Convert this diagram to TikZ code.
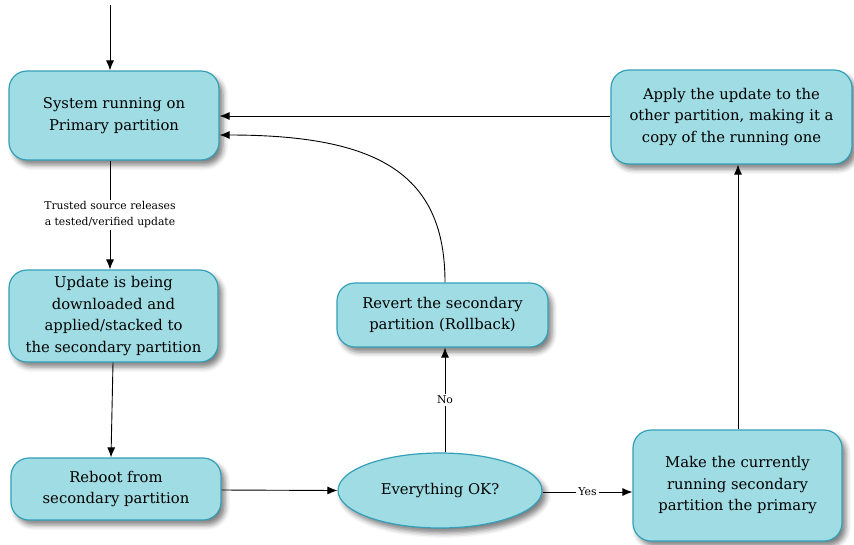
\documentclass[tikz,border=0pt]{standalone}
\usepackage{fontspec}
\setmainfont{DejaVu Serif}
\usetikzlibrary{arrows.meta,shapes.geometric,shadows.blur}
\definecolor{boxfill}{RGB}{160,220,227}
\definecolor{boxline}{RGB}{52,160,184}
\tikzset{
  stepbox/.style={draw=boxline, fill=boxfill, line width=1.2pt, rounded corners=18pt,
    align=center, font=\fontsize{14.8}{21.5}\selectfont, inner sep=0pt,
    blur shadow={shadow xshift=4pt, shadow yshift=-5pt, shadow blur radius=5pt, shadow opacity=50}},
  decision/.style={stepbox, ellipse, rounded corners=0pt},
  flow/.style={line width=0.9pt, -{Latex[length=10pt,width=8pt]}},
  elabel/.style={fill=white, font=\fontsize{10.8}{16}\selectfont, align=center, inner sep=2pt},
}
\begin{document}
\begin{tikzpicture}[x=1pt,y=-1pt]
\useasboundingbox (0,0) rectangle (854,544);
\node[stepbox, minimum width=210pt, minimum height=89pt] (primary) at (114,115.5)
  {System running on\\Primary partition};
\node[stepbox, minimum width=241pt, minimum height=94pt] (apply) at (731.5,117)
  {Apply the update to the\\other partition, making it a\\copy of the running one};
\node[stepbox, minimum width=209pt, minimum height=92pt] (download) at (113.5,316)
  {Update is being\\downloaded and\\applied/stacked to\\the secondary partition};
\node[stepbox, minimum width=211pt, minimum height=64pt] (revert) at (442.5,315)
  {Revert the secondary\\partition (Rollback)};
\node[stepbox, minimum width=210pt, minimum height=62pt] (reboot) at (116,489)
  {Reboot from\\secondary partition};
\node[decision, minimum width=204pt, minimum height=75pt] (ok) at (440,490.5)
  {Everything OK?};
\node[stepbox, minimum width=209pt, minimum height=111pt] (promote) at (737.5,485.5)
  {Make the currently\\running secondary\\partition the primary};
\coordinate (entry) at (110,5);

\draw[flow] (entry) -- (entry |- primary.north);
\draw[flow] (primary.south -| 110,0) -- node[elabel] {Trusted source releases\\a tested/verified update} (download.north -| 110,0);
\draw[flow] (download.south -| 113,0) -- (reboot.north -| 111,0);
\draw[flow] (reboot.east |- 0,490) -- (ok.west);
\draw[flow] (ok.east |- 0,492) -- node[elabel, pos=0.5] {Yes} (promote.west |- 0,492);
\draw[flow] (promote.north -| 738,0) -- (apply.south -| 738,0);
\draw[flow] (apply.west |- 0,116) -- (primary.east |- 0,116);
\draw[flow] (ok.north -| 445,0) -- node[elabel] {No} (revert.south -| 445,0);
\draw[flow] (revert.north -| 445,0) .. controls (445,175) and (380,135) .. (primary.east |- 0,135);
\end{tikzpicture}
\end{document}
